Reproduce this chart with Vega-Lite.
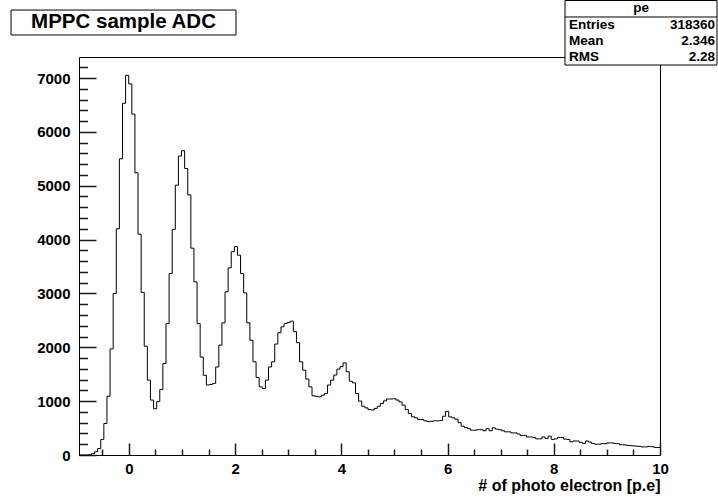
{
  "$schema": "https://vega.github.io/schema/vega-lite/v6.json",
  "width": 581,
  "height": 398,
  "autosize": {"type": "none"},
  "padding": {"left": 79, "top": 57, "right": 58, "bottom": 45},
  "background": "white",
  "config": {"view": {"stroke": "black", "strokeWidth": 1}, "font": "Liberation Sans", "axis": {"ticks": true, "tickOpacity": 1}},
  "resolve": {"axis": {"x": "independent", "y": "independent"}},
  "layer": [
    {
      "data": {"values": [
    {"pe": -0.94, "count": 0}, {"pe": -0.8815, "count": 0}, {"pe": -0.823, "count": 0}, {"pe": -0.7645, "count": 5},
    {"pe": -0.706, "count": 25}, {"pe": -0.6475, "count": 60}, {"pe": -0.589, "count": 120}, {"pe": -0.5305, "count": 290},
    {"pe": -0.472, "count": 585}, {"pe": -0.4135, "count": 1090}, {"pe": -0.355, "count": 1970}, {"pe": -0.2965, "count": 3000},
    {"pe": -0.238, "count": 4200}, {"pe": -0.1795, "count": 5500}, {"pe": -0.121, "count": 6530}, {"pe": -0.0625, "count": 7050},
    {"pe": -0.004, "count": 6890}, {"pe": 0.0545, "count": 6330}, {"pe": 0.113, "count": 5240}, {"pe": 0.1715, "count": 4100},
    {"pe": 0.23, "count": 3020}, {"pe": 0.2885, "count": 2020}, {"pe": 0.347, "count": 1390}, {"pe": 0.4055, "count": 1020},
    {"pe": 0.464, "count": 860}, {"pe": 0.5225, "count": 990}, {"pe": 0.581, "count": 1215}, {"pe": 0.6395, "count": 1700},
    {"pe": 0.698, "count": 2440}, {"pe": 0.7565, "count": 3370}, {"pe": 0.815, "count": 4190}, {"pe": 0.8735, "count": 5010},
    {"pe": 0.932, "count": 5550}, {"pe": 0.9905, "count": 5650}, {"pe": 1.049, "count": 5320}, {"pe": 1.1075, "count": 4830},
    {"pe": 1.166, "count": 3840}, {"pe": 1.2245, "count": 3215}, {"pe": 1.283, "count": 2440}, {"pe": 1.3415, "count": 1820},
    {"pe": 1.4, "count": 1480}, {"pe": 1.4585, "count": 1300}, {"pe": 1.517, "count": 1310}, {"pe": 1.5755, "count": 1330},
    {"pe": 1.634, "count": 1635}, {"pe": 1.6925, "count": 2040}, {"pe": 1.751, "count": 2455}, {"pe": 1.8095, "count": 3030},
    {"pe": 1.868, "count": 3475}, {"pe": 1.9265, "count": 3775}, {"pe": 1.985, "count": 3870}, {"pe": 2.0435, "count": 3710},
    {"pe": 2.102, "count": 3370}, {"pe": 2.1605, "count": 3010}, {"pe": 2.219, "count": 2455}, {"pe": 2.2775, "count": 2130},
    {"pe": 2.336, "count": 1730}, {"pe": 2.3945, "count": 1440}, {"pe": 2.453, "count": 1265}, {"pe": 2.5115, "count": 1235},
    {"pe": 2.57, "count": 1390}, {"pe": 2.6285, "count": 1635}, {"pe": 2.687, "count": 1730}, {"pe": 2.7455, "count": 2060},
    {"pe": 2.804, "count": 2270}, {"pe": 2.8625, "count": 2380}, {"pe": 2.921, "count": 2440}, {"pe": 2.9795, "count": 2460},
    {"pe": 3.038, "count": 2485}, {"pe": 3.0965, "count": 2290}, {"pe": 3.155, "count": 2085}, {"pe": 3.2135, "count": 1730},
    {"pe": 3.272, "count": 1575}, {"pe": 3.3305, "count": 1410}, {"pe": 3.389, "count": 1265}, {"pe": 3.4475, "count": 1100},
    {"pe": 3.506, "count": 1090}, {"pe": 3.5645, "count": 1080}, {"pe": 3.623, "count": 1110}, {"pe": 3.6815, "count": 1140},
    {"pe": 3.74, "count": 1300}, {"pe": 3.7985, "count": 1390}, {"pe": 3.857, "count": 1485}, {"pe": 3.9155, "count": 1595},
    {"pe": 3.974, "count": 1640}, {"pe": 4.0325, "count": 1710}, {"pe": 4.091, "count": 1545}, {"pe": 4.1495, "count": 1370},
    {"pe": 4.208, "count": 1340}, {"pe": 4.2665, "count": 1140}, {"pe": 4.325, "count": 1000}, {"pe": 4.3835, "count": 905},
    {"pe": 4.442, "count": 875}, {"pe": 4.5005, "count": 845}, {"pe": 4.559, "count": 835}, {"pe": 4.6175, "count": 865},
    {"pe": 4.676, "count": 905}, {"pe": 4.7345, "count": 955}, {"pe": 4.793, "count": 1005}, {"pe": 4.8515, "count": 1040},
    {"pe": 4.91, "count": 1040}, {"pe": 4.9685, "count": 1045}, {"pe": 5.027, "count": 1020}, {"pe": 5.0855, "count": 985},
    {"pe": 5.144, "count": 925}, {"pe": 5.2025, "count": 845}, {"pe": 5.261, "count": 770}, {"pe": 5.3195, "count": 710},
    {"pe": 5.378, "count": 690}, {"pe": 5.4365, "count": 660}, {"pe": 5.495, "count": 660}, {"pe": 5.5535, "count": 635},
    {"pe": 5.612, "count": 620}, {"pe": 5.6705, "count": 625}, {"pe": 5.729, "count": 635}, {"pe": 5.7875, "count": 635},
    {"pe": 5.846, "count": 640}, {"pe": 5.9045, "count": 720}, {"pe": 5.963, "count": 810}, {"pe": 6.0215, "count": 708},
    {"pe": 6.08, "count": 690}, {"pe": 6.1385, "count": 665}, {"pe": 6.197, "count": 600}, {"pe": 6.2555, "count": 535},
    {"pe": 6.314, "count": 510}, {"pe": 6.3725, "count": 490}, {"pe": 6.431, "count": 460}, {"pe": 6.4895, "count": 460},
    {"pe": 6.548, "count": 470}, {"pe": 6.6065, "count": 470}, {"pe": 6.665, "count": 450}, {"pe": 6.7235, "count": 490},
    {"pe": 6.782, "count": 450}, {"pe": 6.8405, "count": 505}, {"pe": 6.899, "count": 480}, {"pe": 6.9575, "count": 470},
    {"pe": 7.016, "count": 450}, {"pe": 7.0745, "count": 430}, {"pe": 7.133, "count": 430}, {"pe": 7.1915, "count": 410},
    {"pe": 7.25, "count": 410}, {"pe": 7.3085, "count": 390}, {"pe": 7.367, "count": 365}, {"pe": 7.4255, "count": 365},
    {"pe": 7.484, "count": 335}, {"pe": 7.5425, "count": 335}, {"pe": 7.601, "count": 325}, {"pe": 7.6595, "count": 300},
    {"pe": 7.718, "count": 300}, {"pe": 7.7765, "count": 335}, {"pe": 7.835, "count": 305}, {"pe": 7.8935, "count": 350},
    {"pe": 7.952, "count": 290}, {"pe": 8.0105, "count": 300}, {"pe": 8.069, "count": 325}, {"pe": 8.1275, "count": 325},
    {"pe": 8.186, "count": 295}, {"pe": 8.2445, "count": 290}, {"pe": 8.303, "count": 245}, {"pe": 8.3615, "count": 260},
    {"pe": 8.42, "count": 260}, {"pe": 8.4785, "count": 235}, {"pe": 8.537, "count": 215}, {"pe": 8.5955, "count": 260},
    {"pe": 8.654, "count": 240}, {"pe": 8.7125, "count": 215}, {"pe": 8.771, "count": 200}, {"pe": 8.8295, "count": 200},
    {"pe": 8.888, "count": 210}, {"pe": 8.9465, "count": 210}, {"pe": 9.005, "count": 225}, {"pe": 9.0635, "count": 225},
    {"pe": 9.122, "count": 215}, {"pe": 9.1805, "count": 210}, {"pe": 9.239, "count": 190}, {"pe": 9.2975, "count": 190},
    {"pe": 9.356, "count": 180}, {"pe": 9.4145, "count": 175}, {"pe": 9.473, "count": 170}, {"pe": 9.5315, "count": 165},
    {"pe": 9.59, "count": 160}, {"pe": 9.6485, "count": 150}, {"pe": 9.707, "count": 150}, {"pe": 9.7655, "count": 160},
    {"pe": 9.824, "count": 155}, {"pe": 9.8825, "count": 140}, {"pe": 9.941, "count": 140}, {"pe": 10.0, "count": 140}
      ]},
      "mark": {"type": "line", "interpolate": "step-after", "color": "black", "strokeWidth": 1},
      "encoding": {
        "x": {"field": "pe", "type": "quantitative",
          "scale": {"domain": [-0.94, 10], "nice": false, "zero": false},
          "axis": {"orient": "bottom", "values": [0, 2, 4, 6, 8, 10], "format": "d", "grid": false, "domain": false,
            "ticks": true, "offset": -12, "tickSize": 12, "tickColor": "#1a1a1a", "tickWidth": 1.5,
            "labelFont": "Liberation Sans", "labelFontWeight": "bold", "labelFontSize": 15, "labelColor": "black",
            "labelPadding": 6, "labelFlush": false, "labelOverlap": false,
            "title": "# of photo electron [p.e]", "titleAnchor": "end", "titleFont": "Liberation Sans",
            "titleFontWeight": "bold", "titleFontSize": 16, "titleColor": "black", "titlePadding": 1}},
        "y": {"field": "count", "type": "quantitative",
          "scale": {"domain": [0, 7390], "nice": false},
          "axis": {"orient": "left", "values": [0, 1000, 2000, 3000, 4000, 5000, 6000, 7000], "format": "d", "grid": false, "domain": false,
            "ticks": true, "offset": -17, "tickSize": 17, "tickColor": "#1a1a1a", "tickWidth": 1.5,
            "labelFont": "Liberation Sans", "labelFontWeight": "bold", "labelFontSize": 15, "labelColor": "black",
            "labelPadding": 9, "labelFlush": false, "labelOverlap": false, "title": null}}
      }
    },
    {
      "data": {"values": [{"anchor": 0}]},
      "mark": {"type": "point", "opacity": 0},
      "encoding": {
        "x": {"datum": 0, "type": "quantitative",
          "axis": {"orient": "bottom", "values": [-0.5, 0.5, 1, 1.5, 2.5, 3, 3.5, 4.5, 5, 5.5, 6.5, 7, 7.5, 8.5, 9, 9.5],
            "labels": false, "domain": false, "grid": false, "title": null, "ticks": true, "offset": -6, "tickSize": 6, "tickColor": "#1a1a1a", "tickWidth": 1.5}},
        "y": {"datum": 0, "type": "quantitative",
          "axis": {"orient": "left", "values": [200, 400, 600, 800, 1200, 1400, 1600, 1800, 2200, 2400, 2600, 2800, 3200, 3400, 3600, 3800, 4200, 4400, 4600, 4800, 5200, 5400, 5600, 5800, 6200, 6400, 6600, 6800, 7200],
            "labels": false, "domain": false, "grid": false, "title": null, "ticks": true, "offset": -8.5, "tickSize": 8.5, "tickColor": "#1a1a1a", "tickWidth": 1.5}}
      }
    },
    {
      "data": {"values": [{"box": "title"}]},
      "mark": {"type": "rect", "fill": "white", "stroke": "black", "strokeWidth": 1},
      "encoding": {
        "x": {"datum": -2.22, "type": "quantitative", "axis": null}, "x2": {"datum": 2.016},
        "y": {"datum": 8262, "type": "quantitative", "axis": null}, "y2": {"datum": 7799}
      }
    },
    {
      "data": {"values": [{"box": "title"}]},
      "mark": {"type": "text", "font": "Liberation Sans", "fontWeight": "bold", "fontSize": 20.5, "color": "black", "align": "center", "baseline": "middle"},
      "encoding": {
        "x": {"datum": -0.102, "type": "quantitative", "axis": null}, "y": {"datum": 8031, "type": "quantitative", "axis": null},
        "text": {"value": "MPPC sample ADC"}
      }
    },
    {
      "data": {"values": [{"box": "stats"}]},
      "mark": {"type": "rect", "fill": "white", "stroke": "black", "strokeWidth": 1},
      "encoding": {
        "x": {"datum": 8.211, "type": "quantitative", "axis": null}, "x2": {"datum": 11.073},
        "y": {"datum": 8439, "type": "quantitative", "axis": null}, "y2": {"datum": 7241}
      }
    },
    {
      "data": {"values": [{"box": "stats"}]},
      "mark": {"type": "rule", "color": "black", "strokeWidth": 1},
      "encoding": {
        "x": {"datum": 8.211, "type": "quantitative", "axis": null}, "x2": {"datum": 11.073},
        "y": {"datum": 8133, "type": "quantitative", "axis": null}
      }
    },
    {
      "data": {"values": [{"box": "stats"}]},
      "mark": {"type": "text", "font": "Liberation Sans", "fontWeight": "bold", "fontSize": 13.5, "color": "black", "align": "center", "baseline": "middle"},
      "encoding": {"x": {"datum": 9.643, "type": "quantitative", "axis": null}, "y": {"datum": 8300, "type": "quantitative", "axis": null}, "text": {"value": "pe"}}
    },
    {
      "data": {"values": [{"box": "stats"}]},
      "mark": {"type": "text", "font": "Liberation Sans", "fontWeight": "bold", "fontSize": 13.5, "color": "black", "align": "left", "baseline": "middle"},
      "encoding": {"x": {"datum": 8.287, "type": "quantitative", "axis": null}, "y": {"datum": 7984, "type": "quantitative", "axis": null}, "text": {"value": "Entries"}}
    },
    {
      "data": {"values": [{"box": "stats"}]},
      "mark": {"type": "text", "font": "Liberation Sans", "fontWeight": "bold", "fontSize": 13.5, "color": "black", "align": "right", "baseline": "middle"},
      "encoding": {"x": {"datum": 11.036, "type": "quantitative", "axis": null}, "y": {"datum": 7984, "type": "quantitative", "axis": null}, "text": {"value": "318360"}}
    },
    {
      "data": {"values": [{"box": "stats"}]},
      "mark": {"type": "text", "font": "Liberation Sans", "fontWeight": "bold", "fontSize": 13.5, "color": "black", "align": "left", "baseline": "middle"},
      "encoding": {"x": {"datum": 8.287, "type": "quantitative", "axis": null}, "y": {"datum": 7687, "type": "quantitative", "axis": null}, "text": {"value": "Mean"}}
    },
    {
      "data": {"values": [{"box": "stats"}]},
      "mark": {"type": "text", "font": "Liberation Sans", "fontWeight": "bold", "fontSize": 13.5, "color": "black", "align": "right", "baseline": "middle"},
      "encoding": {"x": {"datum": 11.036, "type": "quantitative", "axis": null}, "y": {"datum": 7687, "type": "quantitative", "axis": null}, "text": {"value": "2.346"}}
    },
    {
      "data": {"values": [{"box": "stats"}]},
      "mark": {"type": "text", "font": "Liberation Sans", "fontWeight": "bold", "fontSize": 13.5, "color": "black", "align": "left", "baseline": "middle"},
      "encoding": {"x": {"datum": 8.287, "type": "quantitative", "axis": null}, "y": {"datum": 7390, "type": "quantitative", "axis": null}, "text": {"value": "RMS"}}
    },
    {
      "data": {"values": [{"box": "stats"}]},
      "mark": {"type": "text", "font": "Liberation Sans", "fontWeight": "bold", "fontSize": 13.5, "color": "black", "align": "right", "baseline": "middle"},
      "encoding": {"x": {"datum": 11.036, "type": "quantitative", "axis": null}, "y": {"datum": 7390, "type": "quantitative", "axis": null}, "text": {"value": "2.28"}}
    }
  ]
}
